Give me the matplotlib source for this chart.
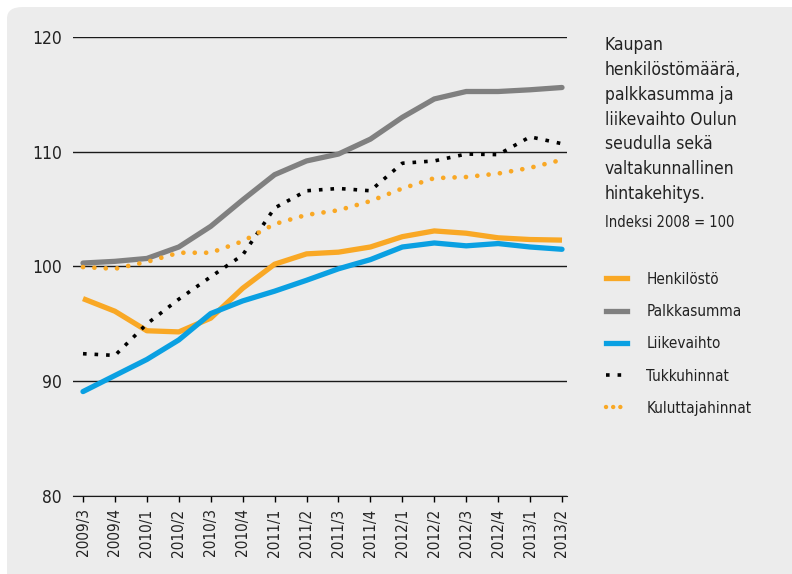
import matplotlib.pyplot as plt
from matplotlib.patches import FancyBboxPatch
from matplotlib.lines import Line2D

quarters = ["2009/3", "2009/4", "2010/1", "2010/2", "2010/3", "2010/4",
            "2011/1", "2011/2", "2011/3", "2011/4", "2012/1", "2012/2",
            "2012/3", "2012/4", "2013/1", "2013/2"]
henkilosto = [97.2, 96.1, 94.4, 94.3, 95.5, 98.1, 100.2, 101.1, 101.25, 101.7,
              102.6, 103.1, 102.9, 102.5, 102.35, 102.3]
palkkasumma = [100.3, 100.45, 100.7, 101.7, 103.5, 105.8, 108.0, 109.2, 109.8,
               111.1, 113.0, 114.6, 115.25, 115.25, 115.4, 115.6]
liikevaihto = [89.1, 90.5, 91.9, 93.6, 95.9, 97.0, 97.85, 98.8, 99.8, 100.6,
               101.7, 102.05, 101.8, 102.0, 101.7, 101.5]
tukkuhinnat = [92.4, 92.25, 95.0, 97.15, 99.1, 101.0, 105.1, 106.6, 106.8,
               106.6, 109.0, 109.2, 109.8, 109.75, 111.3, 110.7]
kuluttajahinnat = [99.95, 99.8, 100.4, 101.2, 101.2, 102.2, 103.7, 104.5,
                   104.9, 105.7, 106.8, 107.7, 107.8, 108.1, 108.6, 109.3]

title = ("Kaupan\nhenkilöstömäärä,\npalkkasumma ja\nliikevaihto Oulun\n"
         "seudulla sekä\nvaltakunnallinen\nhintakehitys.")
subtitle = "Indeksi 2008 = 100"

ORANGE = "#f9a825"
GRAY = "#808080"
BLUE = "#0aa0e2"
BG = "#ececec"
TXT = "#222222"

plt.rcParams["font.family"] = ["DejaVu Sans"]
plt.rcParams["font.stretch"] = "condensed"

fig = plt.figure(figsize=(7.92, 5.74), dpi=100, facecolor="white")
W, H = 792, 574
bg = FancyBboxPatch((7 / W, -0.05), 1.1, 1.05 - 7 / H,
                    boxstyle="round,pad=0,rounding_size=0.02",
                    transform=fig.transFigure, facecolor=BG, edgecolor="none",
                    zorder=-10)
fig.patches.append(bg)

ax = fig.add_axes([73 / W, 1 - 496 / H, (567 - 73) / W, (496 - 37) / H])
ax.set_facecolor(BG)
x = list(range(len(quarters)))

ax.plot(x, henkilosto, color=ORANGE, lw=3.8, solid_capstyle="butt", zorder=3)
ax.plot(x, palkkasumma, color=GRAY, lw=3.8, solid_capstyle="round", zorder=3)
ax.plot(x, liikevaihto, color=BLUE, lw=3.8, solid_capstyle="round", zorder=3)
ax.plot(x, tukkuhinnat, color="black", lw=2.6, linestyle=(0, (1, 2.2)),
        dash_capstyle="butt", zorder=4)
ax.plot(x, kuluttajahinnat, color=ORANGE, lw=3.4, linestyle=(0, (0.01, 2.4)),
        dash_capstyle="round", zorder=4)

ax.set_ylim(80, 120)
ax.set_xlim(-10 / 31.93, 15 + 5 / 31.93)
ax.set_yticks([80, 90, 100, 110, 120])
ax.set_xticks(x)
ax.set_xticklabels(quarters, rotation=90, fontsize=11, color=TXT)
ax.tick_params(axis="y", length=0, pad=8, labelsize=12.5, labelcolor=TXT)
ax.tick_params(axis="x", length=4, width=1, pad=5, direction="out")
ax.grid(axis="y", color="#1a1a1a", lw=1)
ax.set_axisbelow(True)
for s in ["top", "right", "left"]:
    ax.spines[s].set_visible(False)
ax.spines["bottom"].set_color("#1a1a1a")

fig.text(605 / W, 1 - 36 / H, title, fontsize=12.5, va="top", ha="left",
         linespacing=1.49, color=TXT)
fig.text(605 / W, 1 - 215 / H, subtitle, fontsize=10.5, va="top", ha="left",
         color=TXT)

handles = [
    Line2D([], [], color=ORANGE, lw=3.8),
    Line2D([], [], color=GRAY, lw=3.8),
    Line2D([], [], color=BLUE, lw=3.8),
    Line2D([], [], color="black", lw=2.6, linestyle=(0, (1, 2.2))),
    Line2D([], [], color=ORANGE, lw=3.2, linestyle=(0, (0.01, 1.6)),
           dash_capstyle="round"),
]
labels = ["Henkilöstö", "Palkkasumma", "Liikevaihto", "Tukkuhinnat",
          "Kuluttajahinnat"]
fig.legend(handles, labels, loc="upper left",
           bbox_to_anchor=(592 / W, 1 - 258 / H), frameon=False,
           fontsize=11, handlelength=1.4, handletextpad=1.25,
           labelspacing=1.13, labelcolor=TXT)

fig.savefig("out.png", dpi=100, facecolor="white")
